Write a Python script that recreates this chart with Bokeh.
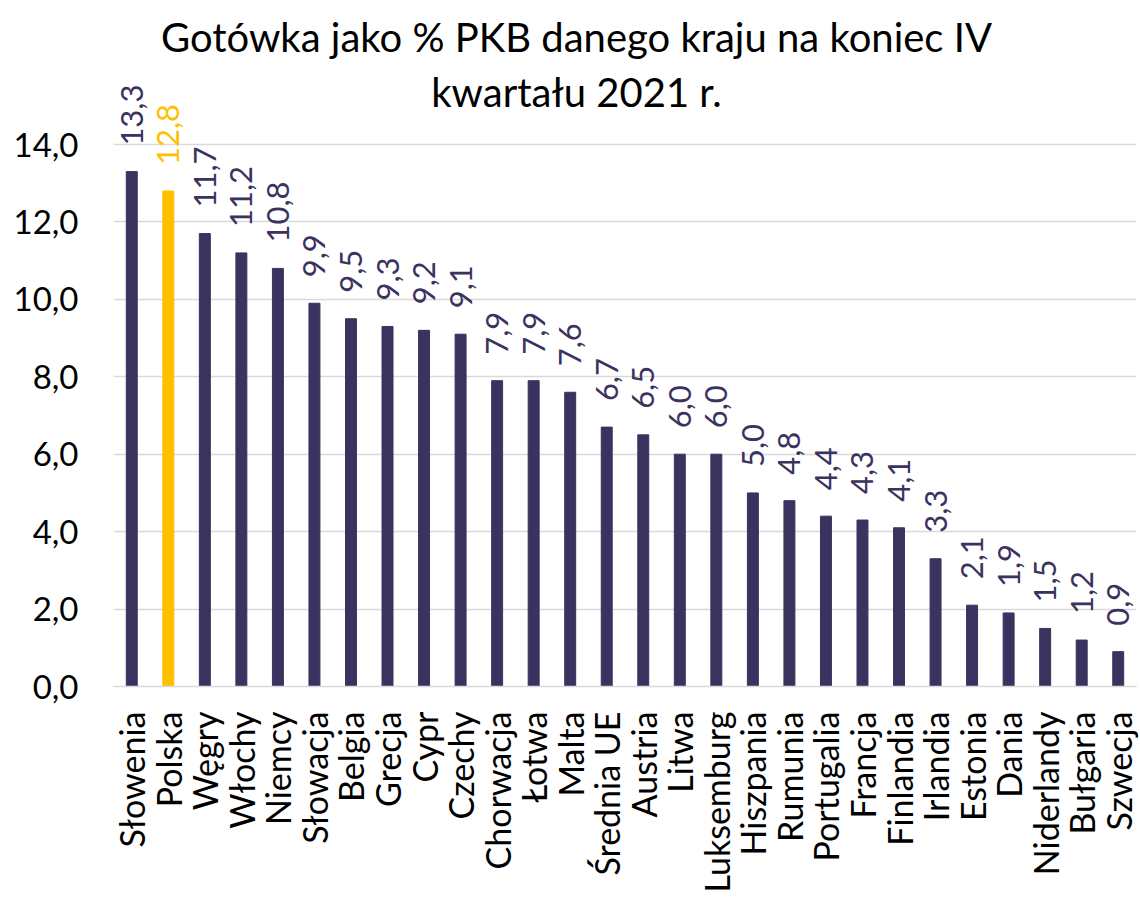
import math
from bokeh.plotting import figure
from bokeh.models import ColumnDataSource, FactorRange, Range1d, FixedTicker, Label
from bokeh.core.properties import value
from bokeh.embed import file_html
from bokeh.resources import INLINE

title_lines = ["Gotówka jako % PKB danego kraju na koniec IV", "kwartału 2021 r."]
countries = ["Słowenia", "Polska", "Węgry", "Włochy", "Niemcy", "Słowacja", "Belgia", "Grecja",
             "Cypr", "Czechy", "Chorwacja", "Łotwa", "Malta", "Średnia UE", "Austria", "Litwa",
             "Luksemburg", "Hiszpania", "Rumunia", "Portugalia", "Francja", "Finlandia", "Irlandia",
             "Estonia", "Dania", "Niderlandy", "Bułgaria", "Szwecja"]
values = [13.3, 12.8, 11.7, 11.2, 10.8, 9.9, 9.5, 9.3, 9.2, 9.1, 7.9, 7.9, 7.6, 6.7, 6.5, 6.0,
          6.0, 5.0, 4.8, 4.4, 4.3, 4.1, 3.3, 2.1, 1.9, 1.5, 1.2, 0.9]
highlight = "Polska"
y_ticks = [0, 2, 4, 6, 8, 10, 12, 14]
y_tick_labels = ["0,0", "2,0", "4,0", "6,0", "8,0", "10,0", "12,0", "14,0"]

PURPLE = "#3C325F"
YELLOW = "#FFC000"
FONT = "Lato"

colors = [YELLOW if c == highlight else PURPLE for c in countries]
labels = [f"{v:.1f}".replace(".", ",") for v in values]
src = ColumnDataSource(dict(cat=countries, val=values, color=colors, label=labels))

W, H = 1140, 897
LEFT, RIGHT, BOTTOM = 113, 4, 211
p = figure(width=W, height=H, output_backend="svg", toolbar_location=None,
           x_range=FactorRange(*countries, range_padding=0), y_range=Range1d(0, 17.72),
           min_border_left=LEFT, min_border_right=RIGHT, min_border_top=0,
           min_border_bottom=BOTTOM)
p.outline_line_color = None
p.background_fill_color = "white"
p.border_fill_color = "white"

p.vbar(x="cat", top="val", width=0.3, color="color", source=src)
p.text(x="cat", y="val", text="label", angle=math.pi / 2, text_align="left",
       text_baseline="middle", y_offset=-26, text_font=value(FONT), text_font_size="31px",
       text_color="color", source=src)

p.xgrid.grid_line_color = None
p.ygrid.grid_line_color = "#D9D9D9"
p.ygrid.grid_line_width = 1.5

yax = p.yaxis[0]
yax.ticker = FixedTicker(ticks=y_ticks)
yax.major_label_overrides = {t: l for t, l in zip(y_ticks, y_tick_labels)}
yax.axis_line_color = None
yax.major_tick_line_color = None
yax.major_tick_out = 0
yax.major_tick_in = 0
yax.minor_tick_line_color = None
yax.major_label_text_font = FONT
yax.major_label_text_font_size = "33px"
yax.major_label_text_color = "#000000"
yax.major_label_standoff = 35

xax = p.xaxis[0]
xax.axis_line_color = "#D9D9D9"
xax.axis_line_width = 1.5
xax.major_tick_line_color = None
xax.major_tick_out = 0
xax.major_tick_in = 0
xax.minor_tick_line_color = None
xax.major_label_orientation = math.pi / 2
xax.major_label_text_font = FONT
xax.major_label_text_font_size = "34px"
xax.major_label_text_color = "#000000"
xax.major_label_standoff = 25

# title (two lines): x in screen units from the frame's left edge, y in data units
for line, yb in zip(title_lines, [16.79, 15.35]):
    p.add_layout(Label(x=576 - LEFT, y=yb, x_units="screen", y_units="data",
                       text=line, text_align="center", text_baseline="alphabetic",
                       text_font=FONT, text_font_size="40px", text_color="#000000"))

open("out.html", "w").write(file_html(p, INLINE))
